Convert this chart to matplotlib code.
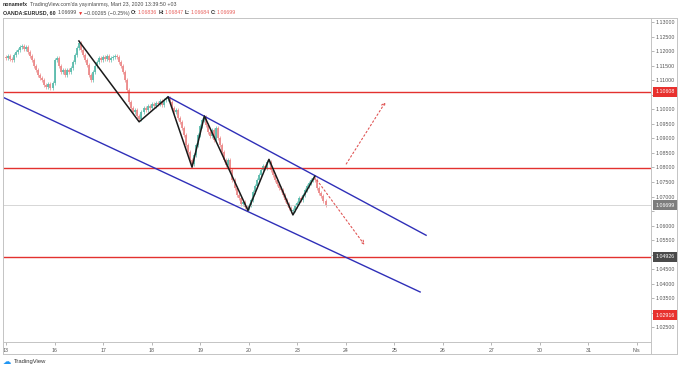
import numpy as np
import matplotlib.pyplot as plt
from matplotlib.lines import Line2D

plt.rcParams['font.family'] = ['Liberation Sans', 'DejaVu Sans']

# trading days on the time axis (weekends skipped)
day_labels = ['13', '16', '17', '18', '19', '20', '23', '24', '25', '26', '27', '30', '31', 'Nis']

# EURUSD hourly closes, one list per trading day
closes_13 = [1.1176, 1.1183, 1.1173, 1.1169, 1.1187, 1.1197, 1.1204, 1.1214, 1.1218, 1.1207, 1.1214, 1.1197,
             1.1183, 1.1169, 1.1149, 1.1135, 1.1118, 1.1108, 1.1101, 1.1084, 1.1077, 1.1087, 1.1073, 1.1090]
closes_16 = [1.1169, 1.1176, 1.1149, 1.1128, 1.1135, 1.1118, 1.1135, 1.1128, 1.1142, 1.1163, 1.1187, 1.1211,
             1.1228, 1.1204, 1.1187, 1.1169, 1.1152, 1.1118, 1.1101, 1.1128, 1.1149, 1.1163, 1.1176, 1.1169]
closes_17 = [1.1180, 1.1173, 1.1183, 1.1169, 1.1176, 1.1180, 1.1183, 1.1180, 1.1163, 1.1149, 1.1128, 1.1101,
             1.1066, 1.1025, 1.1005, 1.0991, 1.0998, 1.0977, 1.0967, 1.0991, 1.1005, 1.0998, 1.1011, 1.1005]
closes_18 = [1.1018, 1.1011, 1.1022, 1.1018, 1.1029, 1.1015, 1.1032, 1.1035, 1.1039, 1.1025, 1.1005, 1.0991,
             1.0998, 1.0970, 1.0956, 1.0936, 1.0912, 1.0877, 1.0853, 1.0826, 1.0812, 1.0843, 1.0877, 1.0912]
closes_19 = [1.0943, 1.0963, 1.0974, 1.0946, 1.0922, 1.0908, 1.0929, 1.0895, 1.0936, 1.0901, 1.0877, 1.0853,
             1.0826, 1.0809, 1.0826, 1.0792, 1.0757, 1.0730, 1.0706, 1.0695, 1.0675, 1.0682, 1.0664, 1.0661]
closes_20 = [1.0671, 1.0688, 1.0716, 1.0737, 1.0757, 1.0774, 1.0792, 1.0805, 1.0798, 1.0819, 1.0819, 1.0792,
             1.0774, 1.0757, 1.0743, 1.0730, 1.0723, 1.0706, 1.0688, 1.0675, 1.0661, 1.0651, 1.0654, 1.0668]
closes_23 = [1.0678, 1.0695, 1.0688, 1.0706, 1.0723, 1.0737, 1.0747, 1.0757, 1.0764, 1.0757, 1.0730, 1.0712,
             1.0702, 1.0685, 1.06699]
first_open = 1.1180

red_levels = [1.10608, 1.0797, 1.04926]
last_price = 1.06699

# hand drawn zigzag (x in trading days)
zig_x = [1.502, 2.743, 3.340, 3.833, 4.088, 4.986, 5.418, 5.912, 6.364]
zig_y = [1.1235, 1.0957, 1.1043, 1.0801, 1.0977, 1.0652, 1.0828, 1.0637, 1.0770]

upper_x = [3.340, 8.656]
upper_y = [1.1043, 1.0567]
lower_x = [-0.056, 8.533]
lower_y = [1.1041, 1.0372]

arrow_up = [(7.010, 1.0812), (7.819, 1.1025)]
arrow_down = [(6.405, 1.0757), (7.387, 1.0534)]

# price scale labels with coloured boxes
price_tags = [('1.10608', 1.10608, '#e8312e'), ('1.06699', 1.06699, '#7d7d7d'),
              ('1.04926', 1.04926, '#4a4a4a'), ('1.02916', 1.02916, '#e8312e')]
# scale labels covered by the boxes
hidden_ticks = ['1.10500', '1.06500', '1.05000', '1.03000']

W, H = 680, 370
fig = plt.figure(figsize=(6.8, 3.7), dpi=100)
ax = fig.add_axes([3 / W, 28 / H, 648 / W, 324 / H])

# candles
day_lists = [closes_13, closes_16, closes_17, closes_18, closes_19, closes_20, closes_23]
xs, cl = [], []
for d, lst in enumerate(day_lists):
    for h, c in enumerate(lst):
        xs.append(d + h / 24)
        cl.append(c)
xs = np.array(xs)
cl = np.array(cl)
op = np.concatenate([[first_open], cl[:-1]])
up = cl >= op
colors = np.where(up, '#5bbcad', '#ec8a8a')
lo = np.minimum(op, cl)
hi = np.maximum(op, cl)
hi = np.where(hi - lo < 0.0002, lo + 0.0002, hi)
ax.vlines(xs, lo - 0.0006, hi + 0.0006, colors=colors, lw=0.5)
ax.vlines(xs, lo, hi, colors=colors, lw=1.3)

# levels
for lv in red_levels:
    ax.axhline(lv, color='#e3322f', lw=1.0)
ax.axhline(last_price, color='#d0d0d0', lw=0.6)

ax.plot(upper_x, upper_y, color='#2f2fb8', lw=1.0)
ax.plot(lower_x, lower_y, color='#2f2fb8', lw=1.0)
ax.plot(zig_x, zig_y, color='#1a1a1a', lw=1.1)

for a, b in [arrow_up, arrow_down]:
    ax.annotate('', xy=b, xytext=a,
                arrowprops=dict(arrowstyle='->', linestyle=(0, (1.5, 2.2)), color='#e05555', lw=0.8,
                                mutation_scale=6, shrinkA=0, shrinkB=0))

ax.set_xlim(-0.062, 13.29)
ax.set_ylim(1.0200, 1.1314)

ax.set_xticks(range(len(day_labels)))
ax.set_xticklabels(day_labels)
ax.yaxis.tick_right()
yt = np.arange(1.025, 1.1301, 0.005)
ax.set_yticks(yt)
ax.set_yticklabels(['' if '%.5f' % v in hidden_ticks else '%.5f' % v for v in yt])
ax.tick_params(axis='x', length=2, width=0.5, pad=2.5, labelsize=3.8, colors='#9a9a9a', labelcolor='#555555')
ax.tick_params(axis='y', length=2, width=0.5, pad=1.5, labelsize=3.8, colors='#9a9a9a', labelcolor='#555555')
for s in ax.spines.values():
    s.set_color('#c4c4c4')
    s.set_linewidth(0.7)

for txt, p, c in price_tags:
    ax.text(1.0065, p, txt, transform=ax.get_yaxis_transform(), ha='left', va='center',
            fontsize=3.8, color='white', bbox=dict(boxstyle='square,pad=0.45', fc=c, ec='none'))

# frame of the price scale and time scale
def fline(x0, y0, x1, y1):
    fig.add_artist(Line2D([x0 / W, x1 / W], [1 - y0 / H, 1 - y1 / H], transform=fig.transFigure,
                          color='#c4c4c4', lw=0.7))

fline(3, 354, 677, 354)
fline(677, 18, 677, 354)
fline(651, 18, 677, 18)
fline(3, 342, 3, 354)
fline(651, 342, 651, 354)

# header rows
def text_row(y_px, pieces):
    r = fig.canvas.get_renderer()
    x = 3.0
    for s, c, wgt, gap in pieces:
        t = fig.text(x / W, 1 - y_px / H, s, color=c, fontweight=wgt, fontsize=3.8, va='center', ha='left')
        x += t.get_window_extent(renderer=r).width + gap

red = '#e8605c'
dark = '#2a2a2a'
grey = '#4a4a4a'
text_row(4.5, [('nonamefx', dark, 'bold', 1.5),
               ("TradingView.com'da yayınlanmış, Mart 23, 2020 13:39:50 +03", grey, 'normal', 0)])
text_row(13, [('OANDA:EURUSD, 60', dark, 'bold', 1.5), ('1.06699', grey, 'normal', 1.2),
              ('▼', '#e8312e', 'normal', 1.2), ('−0.00265 (−0.25%)', grey, 'normal', 1.5),
              ('O:', dark, 'bold', 0.4), ('1.06836', red, 'normal', 1.5),
              ('H:', dark, 'bold', 0.4), ('1.06847', red, 'normal', 1.5),
              ('L:', dark, 'bold', 0.4), ('1.06684', red, 'normal', 1.5),
              ('C:', dark, 'bold', 0.4), ('1.06699', red, 'normal', 0)])

fig.text(3 / W, 1 - 362 / H, '☁', color='#2196f3', fontsize=6, va='center', ha='left', family='DejaVu Sans')
fig.text(14 / W, 1 - 362 / H, 'TradingView', color='#333333', fontsize=4.2, va='center', ha='left')

fig.savefig('out.png', dpi=100)
